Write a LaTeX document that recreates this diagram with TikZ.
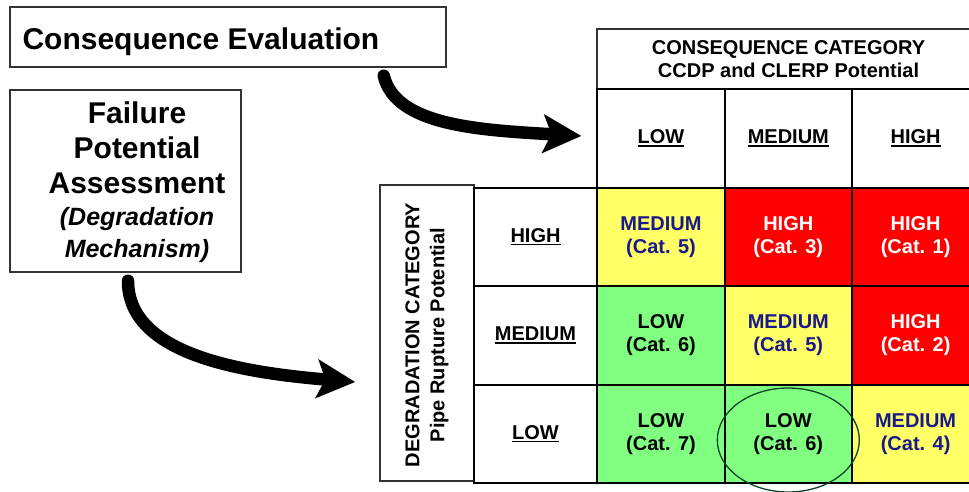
\documentclass[tikz,border=0pt]{standalone}
\usepackage{fontspec}
\setmainfont{Liberation Sans}
\usetikzlibrary{arrows.meta}
\definecolor{cyel}{RGB}{255,255,102}
\definecolor{cred}{RGB}{255,0,0}
\definecolor{cgrn}{RGB}{128,255,128}
\definecolor{cblu}{RGB}{25,25,140}
\definecolor{cring}{RGB}{10,70,40}
\newcommand\ulx[1]{\setbox0\hbox{#1}\rlap{\rule[-3pt]{\wd0}{1.5pt}}\box0}
\begin{document}
\begin{tikzpicture}[x=1pt,y=-1pt,
  box/.style={draw=black!80, line width=1.5pt, fill=white, inner sep=0pt},
  cell/.style={draw=black, line width=2pt, minimum width=127.3pt, minimum height=98.3pt,
    inner sep=0pt, align=center, font=\bfseries\fontsize{20}{23}\selectfont},
  rowlab/.style={cell, minimum width=123pt, fill=white},
  yel/.style={cell, fill=cyel, text=cblu},
  red/.style={cell, fill=cred, text=white},
  grn/.style={cell, fill=cgrn, text=black},
  bigarrow/.style={line width=12.5pt, line cap=round, -{Stealth[length=38pt,width=38pt,inset=8pt]}}
]
\useasboundingbox (0,0) rectangle (969,492);
\clip (0,0) rectangle (969,492);
\fill[white] (0,0) rectangle (969,492);

% left boxes
\node[box, minimum width=436pt, minimum height=60pt] (ce) at (228,37) {};
\node[anchor=west, font=\bfseries\fontsize{30}{35}\selectfont] (cet) at (19,42) {Consequence Evaluation};

\node[box, minimum width=231pt, minimum height=182pt] (fpa) at (125.5,181) {};
\node[align=center, font=\bfseries\fontsize{30}{35}\selectfont] (fpat) at (137,182)
  {Failure\\Potential\\Assessment\\[-3pt]{\itshape\fontsize{25}{30}\selectfont (Degradation}\\[-3pt]{\itshape\fontsize{25}{30}\selectfont Mechanism)}};

% consequence header
\node[box, minimum width=383pt, minimum height=60pt, align=center,
  font=\bfseries\fontsize{20}{23}\selectfont] (hdr) at (788.5,59)
  {CONSEQUENCE CATEGORY\\CCDP and CLERP Potential};

% column headers
\node[cell, fill=white] (hL) at (661,138.5) {\ulx{LOW}};
\node[cell, fill=white] (hM) at (788.3,138.5) {\ulx{MEDIUM}};
\node[cell, fill=white] (hH) at (915.6,138.5) {\ulx{HIGH}};

% degradation label
\node[box, minimum width=94pt, minimum height=296pt] (deg) at (427,333) {};
\node[rotate=90, align=center, font=\bfseries\fontsize{20}{25}\selectfont] (degt) at (427,335)
  {DEGRADATION CATEGORY\\Pipe Rupture Potential};

% row labels
\node[rowlab] (rH) at (535.5,237) {\ulx{HIGH}};
\node[rowlab] (rM) at (535.5,335.5) {\ulx{MEDIUM}};
\node[rowlab] (rL) at (535.5,434) {\ulx{LOW}};

% matrix cells
\node[yel] (c11) at (661,237) {MEDIUM\\(Cat. 5)};
\node[red] (c12) at (788.3,237) {HIGH\\(Cat. 3)};
\node[red] (c13) at (915.6,237) {HIGH\\(Cat. 1)};
\node[grn] (c21) at (661,335.5) {LOW\\(Cat. 6)};
\node[yel] (c22) at (788.3,335.5) {MEDIUM\\(Cat. 5)};
\node[red] (c23) at (915.6,335.5) {HIGH\\(Cat. 2)};
\node[grn] (c31) at (661,434) {LOW\\(Cat. 7)};
\node[grn] (c32) at (788.3,434) {LOW\\(Cat. 6)};
\node[yel] (c33) at (915.6,434) {MEDIUM\\(Cat. 4)};

% highlight ring
\draw[cring, line width=1.3pt] ([yshift=-6pt]c32.center) ellipse [x radius=71, y radius=52];

% arrows
\draw[bigarrow] ([xshift=-63pt,yshift=-8pt]ce.south east)
  .. controls +(12,50) and +(-102,-6) .. ([xshift=-15pt,yshift=2.5pt]hL.west);
\draw[bigarrow] ([xshift=2.5pt,yshift=-8pt]fpa.south)
  .. controls +(0,72) and +(-120,-10) .. ([xshift=-24pt,yshift=-49pt]deg.west);
\end{tikzpicture}
\end{document}
